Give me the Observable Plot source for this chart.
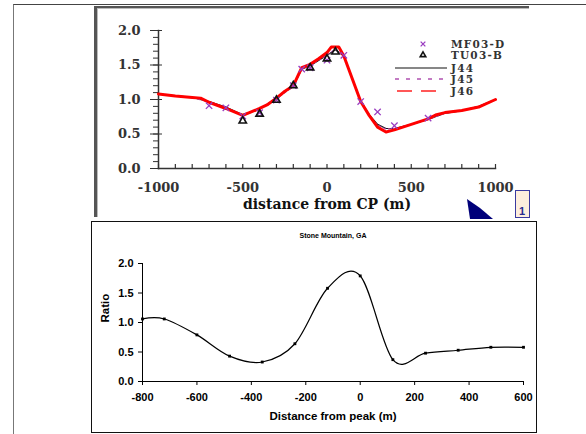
<!DOCTYPE html>
<html><head><meta charset="utf-8">
<script src="https://cdn.jsdelivr.net/npm/d3@7"></script>
<script src="https://cdn.jsdelivr.net/npm/@observablehq/plot@0.6"></script>
<style>
body{margin:0;background:#fff;}
#page{position:relative;width:586px;height:434px;overflow:hidden;background:#fff;}
.abs{position:absolute;box-sizing:border-box;}
</style></head><body>
<div id="page">
  <div class="abs" style="left:13px;top:4px;width:573px;height:430px;border-left:1px solid #777;border-top:1.5px solid #444;"></div>
  <div class="abs" style="left:94px;top:6px;width:435px;height:211px;border-left:3px solid #555;border-top:2.5px solid #555;box-shadow:inset 1px 1px 0 #bbb;"></div>
  <div class="abs" style="left:91px;top:221px;width:446px;height:212px;border:1.5px solid #111;"></div>
  <div id="topChart" class="abs" style="left:95px;top:7px;"></div>
  <div id="bottomChart" class="abs" style="left:91px;top:222px;"></div>
  <svg id="overlay" class="abs" style="left:0;top:0;" width="586" height="434"></svg>
</div>
<script>
// ---- Top chart (distance from CP) ----
const j46Dist  = [-1000,-900,-800,-750,-700,-600,-500,-450,-400,-350,-300,-250,-200,-150,-100,-50,0,25,70,100,150,200,250,300,350,400,450,500,600,650,700,800,900,1000];
const j46Ratio = [1.08,1.05,1.03,1.02,0.96,0.87,0.77,0.82,0.87,0.93,1.02,1.12,1.20,1.46,1.51,1.59,1.68,1.76,1.76,1.63,1.30,0.97,0.77,0.60,0.53,0.56,0.60,0.64,0.72,0.78,0.81,0.84,0.89,1.00];
const j44Dist  = [-1000,-800,-700,-600,-500,-400,-300,-200,-150,-100,0,50,100,150,200,250,300,350,400,500,600,700,800,900,1000];
const j44Ratio = [1.08,1.03,0.97,0.89,0.78,0.86,1.02,1.20,1.44,1.49,1.64,1.72,1.63,1.30,0.98,0.78,0.64,0.58,0.58,0.64,0.71,0.80,0.84,0.90,1.00];
const j45Dist  = [-1000,-800,-700,-600,-500,-400,-300,-200,-150,-100,0,50,100,150,200,250,300,350,400,500,600,700,800,900,1000];
const j45Ratio = [1.08,1.03,0.96,0.88,0.77,0.86,1.01,1.19,1.44,1.49,1.65,1.73,1.63,1.31,0.98,0.77,0.63,0.57,0.58,0.64,0.71,0.80,0.84,0.90,1.00];
const mf03Dist  = [-700,-600,-500,-400,-300,-200,-150,-100,0,100,200,300,400,600];
const mf03Ratio = [0.91,0.88,0.76,0.81,0.99,1.20,1.44,1.46,1.57,1.64,0.97,0.82,0.62,0.73];
const tu03Dist  = [-500,-400,-300,-200,-100,0,50];
const tu03Ratio = [0.69,0.79,0.99,1.20,1.46,1.59,1.69];
const topXTicks = [-1000,-500,0,500,1000];
const topXMinor = [-1000,-900,-800,-700,-600,-500,-400,-300,-200,-100,0,100,200,300,400,500,600,700,800,900,1000];
const topYTicks = [0,0.5,1,1.5,2];
const topYMinor = [0,0.1,0.2,0.3,0.4,0.5,0.6,0.7,0.8,0.9,1,1.1,1.2,1.3,1.4,1.5,1.6,1.7,1.8,1.9,2];
const topLegend = ["MF03-D","TU03-B","J44","J45","J46"];

// ---- Bottom chart (Stone Mountain, GA) ----
const peakDist  = [-800,-720,-600,-480,-360,-240,-120,0,120,240,360,480,600];
const peakRatio = [1.06,1.06,0.79,0.43,0.33,0.64,1.58,1.79,0.37,0.48,0.53,0.58,0.58];
const botXTicks = [-800,-600,-400,-200,0,200,400,600];
const botYTicks = [0,0.5,1,1.5,2];

const toRows = (xs, ys) => xs.map((x, i) => ({x, y: ys[i]}));

const TW = 434, TH = 209, TML = 63, TMR = 34, TMT = 23, TMB = 48;
const tpw = TW - TML - TMR, tph = TH - TMT - TMB;
const serif = "DejaVu Serif";

const topPlot = Plot.plot({
  width: TW, height: TH,
  marginLeft: TML, marginRight: TMR, marginTop: TMT, marginBottom: TMB,
  style: {fontFamily: serif, fontSize: "13px", fontWeight: "bold", color: "#333", background: "transparent", overflow: "visible"},
  x: {domain: [-1000, 1000], label: null},
  y: {domain: [0, 2], label: null},
  marks: [
    Plot.axisY({ticks: topYMinor, tickSize: 5, tickFormat: () => "", stroke: "#333"}),
    Plot.axisY({ticks: topYTicks, tickSize: 8, tickPadding: 10, tickFormat: d3.format(".1f"), stroke: "#333", fill: "#333"}),
    Plot.tickY(topYTicks, {y: d => d, insetRight: tpw - 4, stroke: "#333"}),
    Plot.axisX({ticks: topXTicks, tickSize: 0, tickPadding: 14, tickFormat: d => String(d), fill: "#333"}),
    Plot.tickX(topXMinor, {x: d => d, insetTop: tph - 4, insetBottom: 0, stroke: "#333", strokeWidth: 1.2}),
    Plot.frame({anchor: "left", stroke: "#333", strokeWidth: 1.5}),
    Plot.frame({anchor: "bottom", stroke: "#333", strokeWidth: 1.5}),
    Plot.line(toRows(j44Dist, j44Ratio), {x: "x", y: "y", stroke: "#111", strokeWidth: 1.2}),
    Plot.line(toRows(j45Dist, j45Ratio), {x: "x", y: "y", stroke: "#b050b0", strokeWidth: 1.2, strokeDasharray: "2,3"}),
    Plot.line(toRows(j46Dist, j46Ratio), {x: "x", y: "y", stroke: "#ff0000", strokeWidth: 3}),
    Plot.dot(toRows(mf03Dist, mf03Ratio), {x: "x", y: "y", symbol: "times", r: 3, stroke: "#9a3dc0", strokeWidth: 1.3}),
    Plot.dot(toRows(tu03Dist, tu03Ratio), {x: "x", y: "y", symbol: "triangle2", r: 3.5, stroke: "#111", strokeWidth: 1.6}),
    Plot.text(["distance from CP (m)"], {text: d => d, frameAnchor: "bottom", dy: 40, fontSize: 14, fontWeight: "bold", fill: "#111"})
  ]
});
document.getElementById("topChart").appendChild(topPlot);

const BW = 446, BH = 210, BML = 51, BMR = 14, BMT = 41, BMB = 51;
const sans = "Liberation Sans, Arial, sans-serif";
const bottomPlot = Plot.plot({
  width: BW, height: BH,
  marginLeft: BML, marginRight: BMR, marginTop: BMT, marginBottom: BMB,
  style: {fontFamily: sans, fontSize: "11px", fontWeight: "bold", color: "#000", background: "transparent", overflow: "visible"},
  x: {domain: [-800, 600], label: null},
  y: {domain: [0, 2], label: null},
  marks: [
    Plot.axisY({ticks: botYTicks, tickSize: 4, tickPadding: 5, tickFormat: d3.format(".1f")}),
    Plot.axisX({ticks: botXTicks, tickSize: 4, tickPadding: 8, tickFormat: d => String(d)}),
    Plot.frame({anchor: "left", stroke: "#000", strokeWidth: 1}),
    Plot.frame({anchor: "bottom", stroke: "#000", strokeWidth: 1}),
    Plot.line(toRows(peakDist, peakRatio), {x: "x", y: "y", curve: "cardinal", stroke: "#000", strokeWidth: 1.2}),
    Plot.dot(toRows(peakDist, peakRatio), {x: "x", y: "y", symbol: "square", r: 1.6, fill: "#000"}),
    Plot.text(["Stone Mountain, GA"], {text: d => d, frameAnchor: "top", dy: -30, fontSize: 7, fontWeight: "bold"}),
    Plot.text(["Ratio"], {text: d => d, frameAnchor: "left", dx: -37, rotate: -90, fontSize: 11.5, fontWeight: "bold"}),
    Plot.text(["Distance from peak (m)"], {text: d => d, frameAnchor: "bottom", dy: 38, fontSize: 11.5, fontWeight: "bold"})
  ]
});
document.getElementById("bottomChart").appendChild(bottomPlot);

// ---- Legend and scan decorations (overlay) ----
const ov = d3.select("#overlay");
const legY = [44, 55, 68, 79, 91];
const lg = ov.append("g").attr("font-family", serif).attr("font-size", 10.5).attr("font-weight", "bold").attr("fill", "#333");
topLegend.forEach((name, i) => {
  lg.append("text").attr("x", 451).attr("y", legY[i]).attr("dy", "0.35em").attr("letter-spacing", "1.2px").text(name);
});
ov.append("path").attr("transform", `translate(423,${legY[0]})`).attr("d", d3.symbol(d3.symbolTimes, 16)()).attr("stroke", "#9a3dc0").attr("stroke-width", 1.3).attr("fill", "none");
ov.append("path").attr("transform", `translate(423,${legY[1]})`).attr("d", d3.symbol(d3.symbolTriangle2, 22)()).attr("stroke", "#111").attr("stroke-width", 1.6).attr("fill", "none");
ov.append("line").attr("x1", 395).attr("x2", 447).attr("y1", legY[2]).attr("y2", legY[2]).attr("stroke", "#111").attr("stroke-width", 1.2);
ov.append("line").attr("x1", 395).attr("x2", 447).attr("y1", legY[3]).attr("y2", legY[3]).attr("stroke", "#b050b0").attr("stroke-width", 1.3).attr("stroke-dasharray", "4,7");
ov.append("line").attr("x1", 397).attr("x2", 444).attr("y1", legY[4]).attr("y2", legY[4]).attr("stroke", "#ff2020").attr("stroke-width", 1.3).attr("stroke-dasharray", "15,9");
// blue wedge and box (scan artifacts at lower right of the upper figure)
ov.append("path").attr("d", "M467,199 L480,208 L493,219 L470,219 Z").attr("fill", "#00007a");
ov.append("rect").attr("x", 515.5).attr("y", 190.5).attr("width", 14).attr("height", 27).attr("fill", "#fdeedd").attr("stroke", "#3a3aa0").attr("stroke-width", 1);
ov.append("text").attr("x", 519).attr("y", 215).attr("font-family", sans).attr("font-size", 11).attr("font-weight", "bold").attr("fill", "#2a2a90").text("1");
</script>
</body></html>
